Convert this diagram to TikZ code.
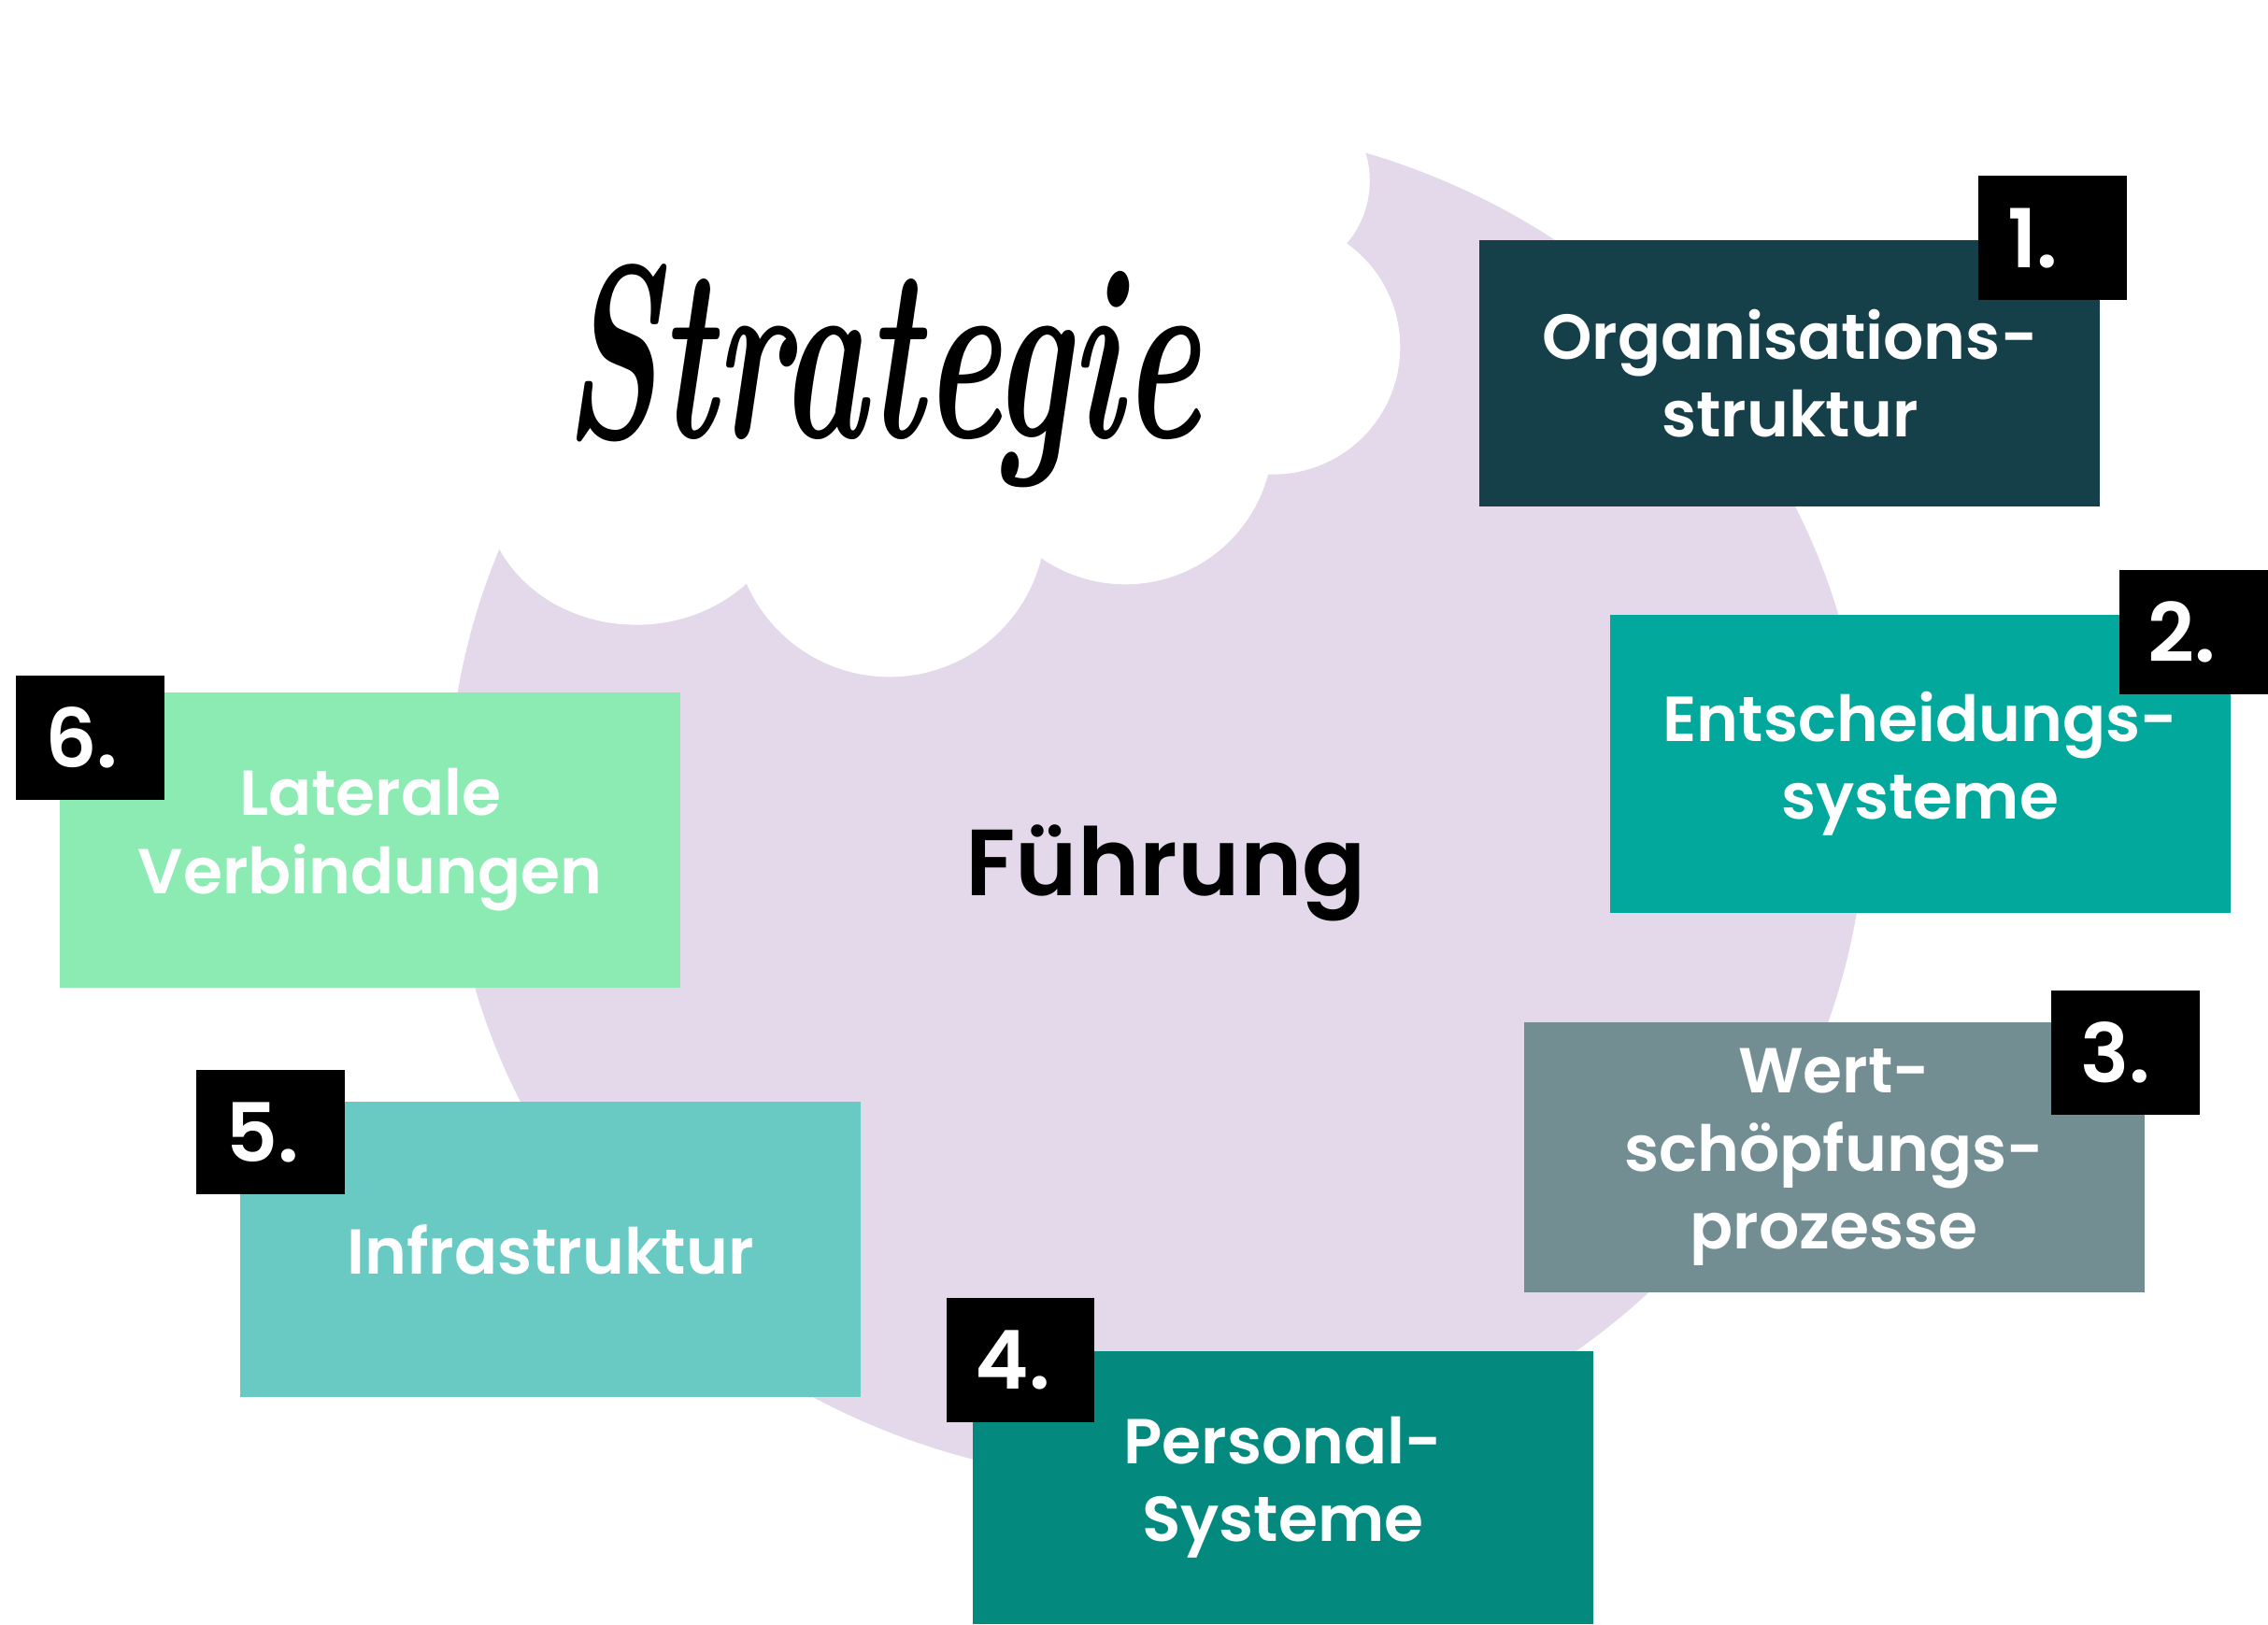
\documentclass[tikz,border=0pt]{standalone}
\usepackage{fontspec}
\newfontfamily\popfont{Poppins SemiBold}

\definecolor{lavender}{HTML}{E3D9EA}
\definecolor{cOrg}{HTML}{15404A}
\definecolor{cEnt}{HTML}{03A89D}
\definecolor{cWert}{HTML}{728E93}
\definecolor{cPers}{HTML}{04897E}
\definecolor{cInfra}{HTML}{69C9C3}
\definecolor{cLat}{HTML}{8BEBB3}

\begin{document}
\begin{tikzpicture}[x=0.1mm, y=-0.1mm]
    % -----------------------------
    % Parameters (tweak as needed)
    % -----------------------------
    \def\tileW{42.9mm}      % width of the coloured fields
    \def\badgeW{10.25mm}    % black number square, width
    \def\badgeH{8.6mm}      % black number square, height

    % Fonts
    \newcommand{\tilefont}{\popfont\fontsize{12.5}{15.3}\selectfont}
    \newcommand{\badgefont}{\popfont\fontsize{16}{16}\selectfont}

    % -----------------------------
    % Styles
    % -----------------------------
    \tikzset{
      tile/.style={fill=#1, text=white, minimum width=\tileW, inner sep=0pt,
                   align=center, font=\tilefont},
      badge/.style={fill=black, text=white, minimum height=\badgeH, inner ysep=0pt,
                    inner xsep=2mm, text width=\badgeW-4mm, align=left, font=\badgefont}
    }

    \useasboundingbox (0,0) rectangle (1568,1123);

    % -----------------------------
    % Lavender disc behind everything
    % -----------------------------
    \fill[lavender] (800,555) ellipse [x radius=490, y radius=470];

    % -----------------------------
    % Cloud (bumps + core)
    % -----------------------------
    \foreach \cx/\cy/\rx/\ry in {302/212/65/62, 320/315/68/68, 440/340/105/92,
        615/360/108/108, 778/302/102/102, 880/240/88/88, 880/125/67/67,
        808/80/80/80, 680/75/75/75, 548/100/87/87, 405/150/110/110}
      \fill[white] (\cx,\cy) ellipse [x radius=\rx, y radius=\ry];
    \fill[white] (269,268) -- (301,154) -- (475,53) -- (616,40) -- (740,38)
        -- (883,58) -- (932,165) -- (868,319) -- (712,388) -- (517,400)
        -- (343,373) -- cycle;

    \node[anchor=base, inner sep=0pt, font=\bfseries\itshape\fontsize{36}{40}\selectfont]
        (strategie) at (610,303) {\scalebox{0.8}[1.35]{Strategie}};

    \node[anchor=base west, inner sep=0pt, font=\popfont\fontsize{18.5}{19}\selectfont]
        (fuehrung) at (667,619) {Führung};

    % -----------------------------
    % Fields
    % -----------------------------
    \node[tile=cOrg,   minimum height=18.4mm] (org)   at (1237.5,258)  {Organisations-\\struktur};
    \node[tile=cEnt,   minimum height=20.6mm] (ent)   at (1327.5,528)  {Entscheidungs-\\systeme};
    \node[tile=cWert,  minimum height=18.7mm] (wert)  at (1268,800)    {Wert-\\schöpfungs-\\prozesse};
    \node[tile=cPers,  minimum height=18.9mm] (pers)  at (887,1028.5)  {Personal-\\Systeme};
    \node[tile=cInfra, minimum height=20.4mm] (infra) at (380.5,863.7) {Infrastruktur};
    \node[tile=cLat,   minimum height=20.4mm] (lat)   at (256,580.6)   {Laterale\\Verbindungen};

    % -----------------------------
    % Number squares
    % -----------------------------
    \node[badge] (n1) at (1419,164.5)  {1.};
    \node[badge] (n2) at (1516.5,437)  {2.};
    \node[badge] (n3) at (1469.5,727.6) {3.};
    \node[badge] (n4) at (705.6,940.5) {4.};
    \node[badge] (n5) at (187,783)     {5.};
    \node[badge] (n6) at (62.4,510)    {6.};

\end{tikzpicture}
\end{document}
